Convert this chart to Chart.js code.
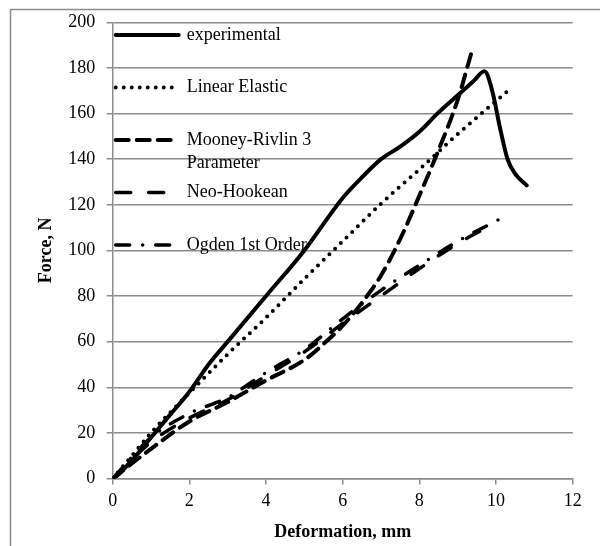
<!DOCTYPE html>
<html>
<head>
<meta charset="utf-8">
<script src="https://cdn.jsdelivr.net/npm/chart.js@4.4.1/dist/chart.umd.min.js"></script>
<style>
  html, body { margin: 0; padding: 0; background: #fff; }
  #wrap { width: 600px; height: 546px; }
</style>
</head>
<body>
<div id="wrap"><canvas id="forceChart" width="600" height="546"></canvas></div>
<script>
// values (deformation mm, force N)
var expX = [0, 0.1, 0.5, 1, 1.5, 2, 2.5, 3, 4, 5, 6, 6.5, 7, 7.5, 8, 8.5, 9, 9.4, 9.7, 9.9, 10.1, 10.3, 10.5, 10.8];
var expF = [0, 1, 8, 18, 28, 38, 50, 60, 80, 100, 123, 132, 140, 145.5, 152, 160.5, 168, 174, 178.5, 170, 154, 140, 133.5, 128.5];

var linX = [0, 0.5, 1, 2, 3, 4, 5, 6, 7, 8, 9, 10.28];
var linF = [0, 10, 20, 37.5, 54.5, 70.5, 87.5, 104, 120.5, 135.5, 151, 169.5];

var mooX = [0, 1, 2, 3, 4, 5, 5.5, 6, 6.5, 7, 7.5, 8, 8.5, 9, 9.38];
var mooF = [0, 13, 25, 33.5, 43, 52, 59, 67, 77, 89, 105, 124, 144, 166, 188];

var neoX = [0, 1, 2, 3, 4, 5, 6, 7, 8, 9, 9.75];
var neoF = [0, 16, 26.5, 34.5, 45, 55.5, 68, 80, 92, 103, 110];

var ogdX = [0, 1, 2, 3, 4, 5, 6, 7, 8, 9, 10.13];
var ogdF = [0, 18, 28.5, 35.5, 46.5, 56.5, 70, 82.5, 93.5, 104, 114];

var seriesNames = ['experimental', 'Linear Elastic', 'Mooney-Rivlin 3 Parameter', 'Neo-Hookean', 'Ogden 1st Order'];
var xTicks = [0, 2, 4, 6, 8, 10, 12];
var yTicks = [0, 20, 40, 60, 80, 100, 120, 140, 160, 180, 200];

function pts(xs, ys) {
  return xs.map(function (x, i) { return { x: x, y: ys[i] }; });
}

var FONT = '"Liberation Serif", "Times New Roman", serif';
var GRID = '#8c8c8c';

var styles = [
  { borderWidth: 4, borderDash: [] },
  { borderWidth: 4, borderDash: [0, 8] },
  { borderWidth: 4, borderDash: [13, 8] },
  { borderWidth: 3.5, borderDash: [15, 18] },
  { borderWidth: 3.5, borderDash: [14, 13, 0, 13] }
];
var allData = [pts(expX, expF), pts(linX, linF), pts(mooX, mooF), pts(neoX, neoF), pts(ogdX, ogdF)];

var datasets = allData.map(function (d, i) {
  return {
    label: seriesNames[i],
    data: d,
    showLine: true,
    borderColor: '#000',
    backgroundColor: '#000',
    borderWidth: styles[i].borderWidth,
    borderDash: styles[i].borderDash,
    borderCapStyle: 'round',
    borderJoinStyle: 'round',
    pointRadius: 0,
    cubicInterpolationMode: 'monotone',
    fill: false
  };
});

// outer frame like the spreadsheet chart box
var frame = {
  id: 'frame',
  beforeDraw: function (chart) {
    var c = chart.ctx;
    c.save();
    c.strokeStyle = GRID;
    c.lineWidth = 1.5;
    c.strokeRect(10.5, 9.5, 700, 700);
    c.restore();
  }
};

// legend sits inside the plot, top-left
var innerLegend = {
  id: 'innerLegend',
  afterDatasetsDraw: function (chart) {
    var c = chart.ctx;
    var x0 = chart.chartArea.left + 1;
    var x1 = x0 + 65;
    c.save();
    c.font = '18px ' + FONT;
    c.fillStyle = '#000';
    c.textBaseline = 'middle';
    chart.data.datasets.forEach(function (ds, i) {
      var y = 35 + i * 52.5;
      c.strokeStyle = '#000';
      c.lineWidth = ds.borderWidth;
      c.lineCap = 'round';
      c.setLineDash(ds.borderDash);
      c.beginPath();
      c.moveTo(x0 + 2, y);
      c.lineTo(x1, y);
      c.stroke();
      c.setLineDash([]);
      var words = ds.label === 'Mooney-Rivlin 3 Parameter' ? ['Mooney-Rivlin 3', 'Parameter'] : [ds.label];
      words.forEach(function (w, k) {
        c.fillText(w, x1 + 8, y + k * 23);
      });
    });
    c.restore();
  }
};

var ctx = document.getElementById('forceChart').getContext('2d');
var chart = new Chart(ctx, {
  type: 'scatter',
  data: { datasets: datasets },
  options: {
    responsive: false,
    animation: false,
    layout: { padding: { left: 0, right: 27.3, top: 22, bottom: 0 } },
    plugins: {
      legend: { display: false },
      tooltip: { enabled: false }
    },
    scales: {
      x: {
        type: 'linear',
        min: 0, max: 12,
        afterBuildTicks: function (s) { s.ticks = xTicks.map(function (v) { return { value: v }; }); },
        afterFit: function (s) { s.height = 67.5; },
        grid: { drawOnChartArea: false, drawTicks: true, tickLength: 6, color: GRID, lineWidth: 1.5 },
        border: { color: GRID, width: 1.5 },
        ticks: { color: '#000', padding: 6, font: { family: FONT, size: 18 } },
        title: {
          display: true, text: 'Deformation, mm', color: '#000',
          font: { family: FONT, size: 18, weight: 'bold' },
          padding: { top: 0, bottom: 3 }
        }
      },
      y: {
        type: 'linear',
        min: 0, max: 200,
        afterBuildTicks: function (s) { s.ticks = yTicks.map(function (v) { return { value: v }; }); },
        afterFit: function (s) { s.width = 112.7; },
        grid: { drawOnChartArea: true, drawTicks: true, tickLength: 6, color: GRID, lineWidth: 1.5 },
        border: { color: GRID, width: 1.5 },
        ticks: { color: '#000', padding: 11.5, font: { family: FONT, size: 18 } },
        title: {
          display: true, text: 'Force, N', color: '#000',
          font: { family: FONT, size: 18, weight: 'bold' },
          padding: { top: 36, bottom: 0 }
        }
      }
    }
  },
  plugins: [frame, innerLegend]
});
</script>
</body>
</html>
